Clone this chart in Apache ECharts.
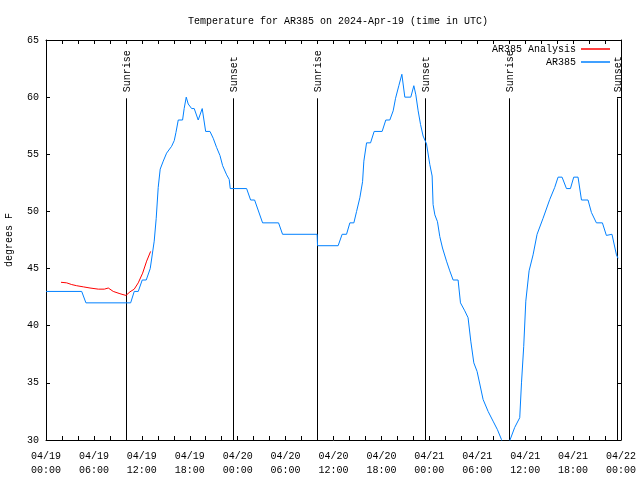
<!DOCTYPE html>
<html>
<head>
<meta charset="utf-8">
<script src="https://cdn.jsdelivr.net/npm/echarts@6/dist/echarts.min.js"></script>
<style>html,body{margin:0;padding:0;background:#fff}#c{width:640px;height:480px}</style>
</head>
<body>
<div id="c"></div>
<script>
// hours since 2024-04-19 00:00 UTC
var obsHours = [0,4.47,5.0,10.6,11.05,11.55,12.05,12.55,13.05,13.55,13.8,14.05,14.3,14.68,15.1,15.73,16.06,16.27,16.56,17.1,17.3,17.56,17.81,18.24,18.56,19.06,19.56,19.99,20.53,20.94,21.36,21.78,22.12,22.62,22.94,23.07,25.12,25.62,26.12,27.12,29.12,29.62,33.95,34.0,36.58,37.08,37.63,38.05,38.55,38.89,39.3,39.64,39.8,40.14,40.64,41.09,42.09,42.55,43.05,43.47,43.77,44.18,44.56,44.93,45.68,46.06,46.31,46.6,46.9,47.22,47.65,48.06,48.35,48.47,48.69,49.02,49.31,49.65,50.15,50.56,50.98,51.6,51.9,52.44,52.85,53.19,53.57,53.98,54.32,54.73,55.36,55.98,56.53,57.03,57.5,58.1,58.69,59.32,59.54,59.82,60.08,60.49,60.99,61.49,62.24,63.08,63.7,64.12,64.62,65.17,65.67,66.08,66.62,67.05,67.87,68.3,68.92,69.67,70.17,70.87,71.43,71.63];
var obsTemps = [43,43,42,42,43,43,44,44,45,47.4,49.4,52.1,53.7,54.4,55.1,55.7,56.2,56.9,58,58,59,60,59.4,59,59,58,59,57,57,56.4,55.6,54.9,54,53.2,52.8,52,52,51,51,49,49,48,48,47,47,48,48,49,49,50,51.2,52.6,54.4,56,56,57,57,58,58,58.8,59.9,61,62,60,60,61,60.2,58.8,57.6,56.6,55.9,54.1,53.1,50.6,49.7,49.1,47.8,46.8,45.65,44.8,44,44,42,41.3,40.7,38.65,36.75,36,34.9,33.55,32.5,31.65,30.9,30.05,28.5,30,31.1,31.95,35,38.2,42.15,44.8,46.2,48,49.4,51.05,52.1,53,53,52,52,53,53,51,51,49.9,49,49,47.9,48,46.2,45.9];
var anaHours = [1.88,2.59,3.22,3.84,4.67,5.51,6.55,7.3,7.8,8.42,9.26,10.01,10.51,11.05,11.55,12.1,12.6,13.1];
var anaTemps = [43.8,43.75,43.6,43.5,43.4,43.3,43.2,43.2,43.3,43.0,42.8,42.65,42.96,43.2,43.75,44.6,45.65,46.5];
var sunHours = [10.05,23.44,33.95,47.47,57.99,71.5];
var sunLabels = ['Sunrise','Sunset','Sunrise','Sunset','Sunrise','Sunset'];
var xTickLabels = ['04/19\n00:00','04/19\n06:00','04/19\n12:00','04/19\n18:00','04/20\n00:00','04/20\n06:00','04/20\n12:00','04/20\n18:00','04/21\n00:00','04/21\n06:00','04/21\n12:00','04/21\n18:00','04/22\n00:00'];
var yTicks = [30,35,40,45,50,55,60,65];
var titleText = 'Temperature for AR385 on 2024-Apr-19 (time in UTC)';

var FONT = '"Liberation Mono", "DejaVu Sans Mono", monospace';
function zip(a,b){var r=[];for(var i=0;i<a.length;i++)r.push([a[i],b[i]]);return r;}
var sunData = sunHours.map(function(h,i){return [h, sunLabels[i]];});
var lineTop = 59.9;

var chart = echarts.init(document.getElementById('c'), null, {renderer:'canvas'});
var axisCommon = {
  type:'value', min:0, max:72, interval:2,
  axisLine:{show:true, onZero:false, lineStyle:{color:'#000', width:1}},
  axisTick:{show:true, inside:true, length:4, lineStyle:{color:'#000'}},
  splitLine:{show:false}
};
chart.setOption({
  animation:false,
  title:{text:titleText, left:183, top:11,
    textStyle:{fontFamily:FONT, fontSize:10, fontWeight:'normal', color:'#000'}},
  grid:{left:46, right:19, top:40, bottom:40, containLabel:false, outerBoundsMode:'none'},
  legend:[
    {data:['AR385 Analysis'], right:30, top:44, align:'right', padding:0, icon:'rect', itemWidth:29, itemHeight:1.5,
     textStyle:{fontFamily:FONT, fontSize:10, color:'#000'}},
    {data:['AR385'], right:30, top:57, align:'right', padding:0, icon:'rect', itemWidth:29, itemHeight:1.5,
     textStyle:{fontFamily:FONT, fontSize:10, color:'#000'}}
  ],
  xAxis:[
    Object.assign({}, axisCommon, {position:'bottom',
      axisLabel:{show:true, interval:0, margin:9, lineHeight:14, fontFamily:FONT, fontSize:10, color:'#000',
        showMinLabel:true, showMaxLabel:true, hideOverlap:false,
        formatter:function(v){ return (Math.round(v)%6===0) ? xTickLabels[Math.round(v)/6] : ''; }}}),
    Object.assign({}, axisCommon, {position:'top', axisLabel:{show:false}})
  ],
  yAxis:[
    {type:'value', min:30, max:65, interval:5, position:'left',
     name:'degrees F', nameLocation:'middle', nameRotate:90, nameGap:32,
     nameTextStyle:{fontFamily:FONT, fontSize:10, color:'#000'},
     axisLine:{show:true, onZero:false, lineStyle:{color:'#000'}},
     axisTick:{show:true, inside:true, length:4, lineStyle:{color:'#000'}},
     axisLabel:{margin:7, fontFamily:FONT, fontSize:10, color:'#000',
       formatter:function(v){ return yTicks.indexOf(v)>=0 ? String(v) : ''; }},
     splitLine:{show:false}},
    {type:'value', min:30, max:65, interval:5, position:'right',
     axisLine:{show:true, onZero:false, lineStyle:{color:'#000'}},
     axisTick:{show:true, inside:true, length:4, lineStyle:{color:'#000'}},
     axisLabel:{show:false}, splitLine:{show:false}}
  ],
  series:[
    {type:'custom', name:'sun', xAxisIndex:0, yAxisIndex:0, z:1, silent:true,
     data:sunData,
     renderItem:function(params, api){
       var h = api.value(0);
       var top = api.coord([h, lineTop]);
       var bot = api.coord([h, 30]);
       var x = Math.round(top[0]) + 0.5;
       return {type:'group', children:[
         {type:'line', shape:{x1:x, y1:top[1], x2:x, y2:bot[1]}, style:{stroke:'#000', lineWidth:1}},
         {type:'text', x:x+1, y:top[1]-6, rotation:Math.PI/2,
          style:{text:sunLabels[params.dataIndex], font:'10px ' + FONT, fill:'#000', align:'left', verticalAlign:'middle'}}
       ]};
     }},
    {type:'line', name:'AR385 Analysis', data:zip(anaHours, anaTemps), showSymbol:false, z:3,
     lineStyle:{color:'#ff0000', width:1}, itemStyle:{color:'#ff0000'}},
    {type:'line', name:'AR385', data:zip(obsHours, obsTemps), showSymbol:false, z:2, clip:true,
     lineStyle:{color:'#0080ff', width:1}, itemStyle:{color:'#0080ff'}}
  ]
});
</script>
</body>
</html>
